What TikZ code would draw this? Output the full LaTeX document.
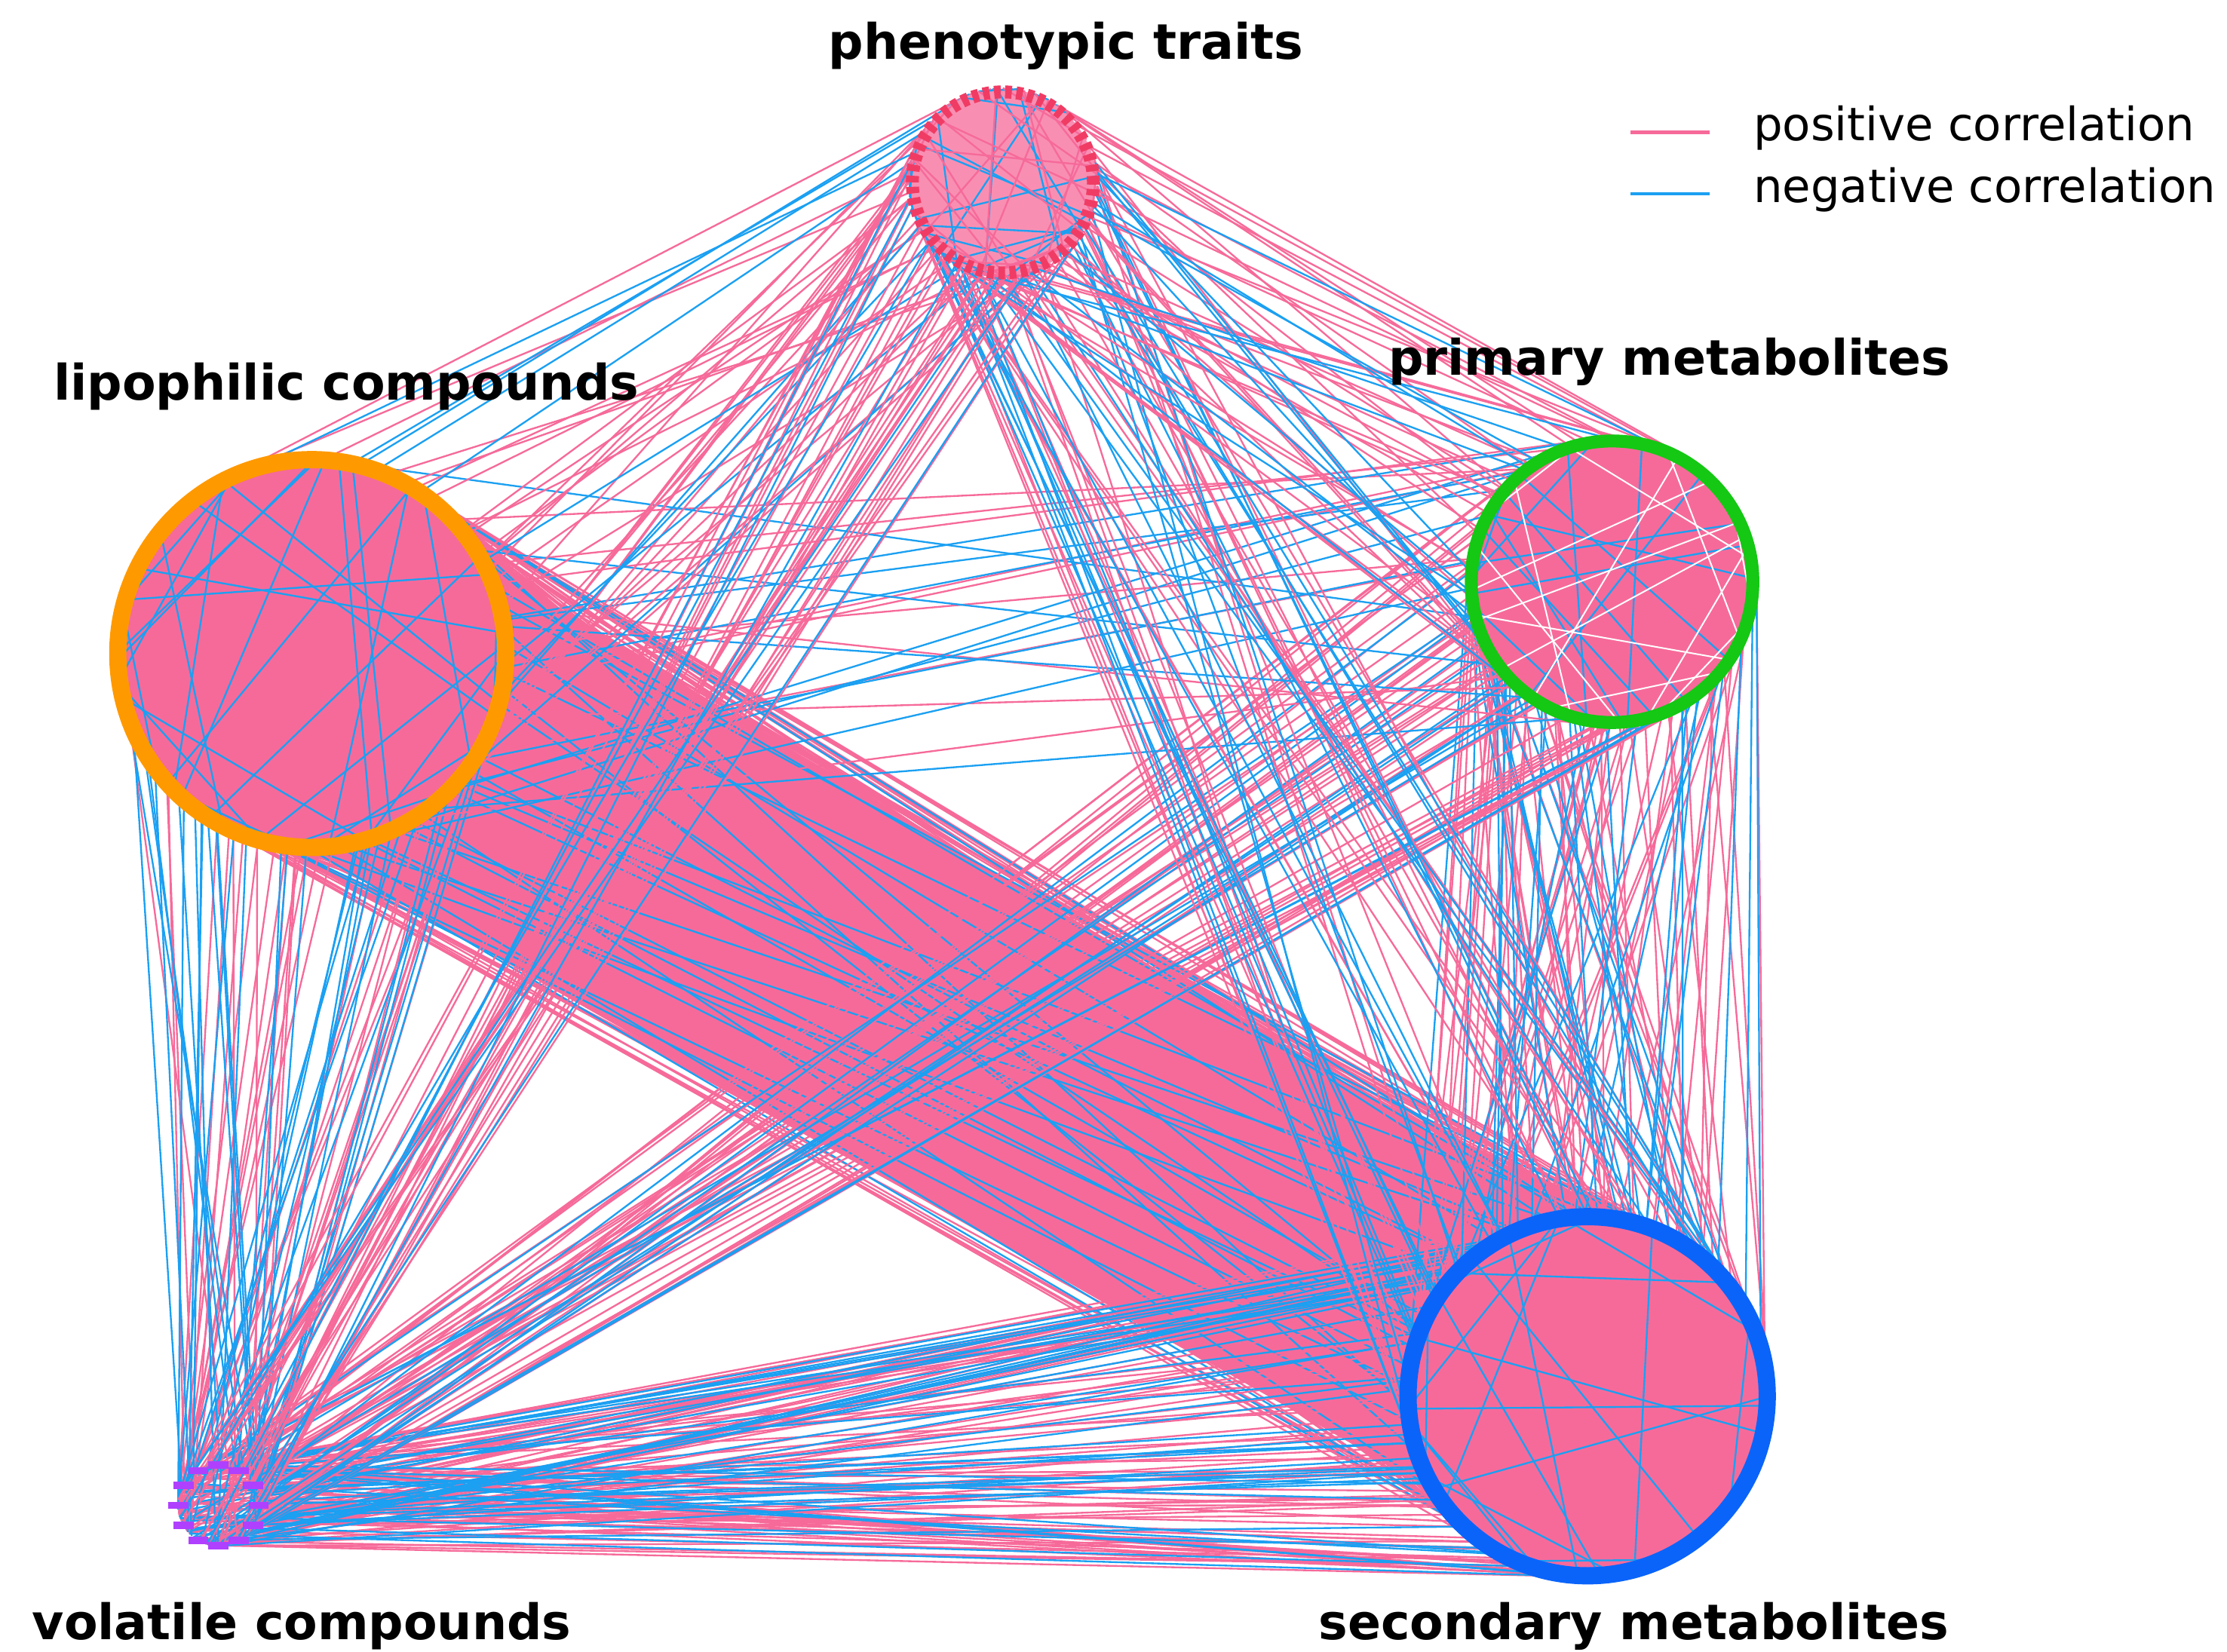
\documentclass[tikz,border=0pt]{standalone}
\usepackage{fontspec}
\setmainfont{DejaVu Sans}
\usetikzlibrary{calc}
\definecolor{pk}{HTML}{F66A9A}
\definecolor{bl}{HTML}{1BA0F2}
\definecolor{ringP}{HTML}{F03C64}
\definecolor{ringM}{HTML}{14C814}
\definecolor{ringL}{HTML}{FF9900}
\definecolor{ringS}{HTML}{0A64FA}
\definecolor{ringV}{HTML}{B040FF}
\begin{document}
\begin{tikzpicture}[x=1cm,y=1cm,
  pe/.style={pk,line width=0.35pt},
  ne/.style={bl,line width=0.35pt},
  lbl/.style={font=\bfseries\fontsize{9.7pt}{11pt}\selectfont},
  leg/.style={font=\fontsize{9.1pt}{11pt}\selectfont,anchor=west}]
\useasboundingbox (0,0) rectangle (15.5,11.5);
\pgfmathsetseed{7}
\node[circle,inner sep=0pt,minimum size=1.3cm] (P) at (6.98,10.23) {};
\node[circle,inner sep=0pt,minimum size=2.0cm] (M) at (11.22,7.45) {};
\node[circle,inner sep=0pt,minimum size=2.7cm] (L) at (2.17,6.95) {};
\node[circle,inner sep=0pt,minimum size=2.5cm] (S) at (11.05,1.78) {};
\node[circle,inner sep=0pt,minimum size=0.55cm] (V) at (1.52,1.02) {};
\newcommand{\edges}[5]{%
  \foreach \k in {1,...,#3}{%
    \pgfmathsetmacro{\aa}{rnd*360}\pgfmathsetmacro{\bb}{rnd*360}%
    \draw[#4] (#1.\aa) -- (#2.\bb);}}
\fill[pk] ($(L)+(59.8:1.15)$) -- ($(S)+(59.8:1.0)$) -- ($(S)+(-120.2:1.1)$) -- ($(L)+(-120.2:1.2)$) -- cycle;
\edges{L}{S}{300}{pe}{}
\edges{L}{S}{28}{ne}{}
\edges{S}{V}{90}{pe}{}
\edges{S}{V}{45}{ne}{}
\edges{M}{S}{60}{pe}{}
\edges{M}{S}{32}{ne}{}
\edges{M}{V}{45}{pe}{}
\edges{M}{V}{15}{ne}{}
\edges{L}{V}{30}{pe}{}
\edges{L}{V}{32}{ne}{}
\edges{L}{M}{10}{pe}{}
\edges{L}{M}{12}{ne}{}
\edges{P}{L}{30}{pe}{}
\edges{P}{L}{10}{ne}{}
\edges{P}{S}{30}{pe}{}
\edges{P}{S}{24}{ne}{}
\edges{P}{M}{35}{pe}{}
\edges{P}{M}{14}{ne}{}
\edges{P}{V}{30}{pe}{}
\edges{P}{V}{8}{ne}{}
\fill[pk] (L) circle (1.35);
\fill[pk] (M) circle (1.0);
\fill[pk] (S) circle (1.25);
\fill[pk!75!white] (P) circle (0.65);
\edges{L}{L}{30}{ne}{}
\edges{M}{M}{20}{ne}{}
\edges{M}{M}{20}{white,line width=0.3pt}{}
\edges{S}{S}{25}{ne}{}
\edges{P}{P}{25}{ne}{}
\edges{P}{P}{30}{pe}{}
\draw[ringP,line width=0.09cm,dash pattern=on 1.3pt off 0.9pt] (P) circle (0.63);
\draw[ringM,line width=0.09cm] (M) circle (0.98);
\draw[ringL,line width=0.12cm] (L) circle (1.35);
\draw[ringS,line width=0.12cm] (S) circle (1.25);
\foreach \ang in {0,30,...,330}{
  \fill[ringV] ($(V)+(\ang:0.28)+(-0.07,-0.025)$) rectangle ++(0.14,0.05);}
\node[lbl] (tP) at (7.42,11.18) {phenotypic traits};
\node[lbl] (tM) at (11.62,8.98) {primary metabolites};
\node[lbl] (tL) at (2.41,8.81) {lipophilic compounds};
\node[lbl] (tV) at (2.10,0.18) {volatile compounds};
\node[lbl] (tS) at (11.37,0.18) {secondary metabolites};
\coordinate (a1) at (11.35,10.58); \coordinate (a2) at (11.90,10.58);
\coordinate (b1) at (11.35,10.15); \coordinate (b2) at (11.90,10.15);
\draw[pe,line width=0.7pt] (a1) -- (a2);
\draw[ne,line width=0.7pt] (b1) -- (b2);
\node[leg] (la) at (12.08,10.61) {positive correlation};
\node[leg] (lb) at (12.08,10.18) {negative correlation};
\end{tikzpicture}
\end{document}
